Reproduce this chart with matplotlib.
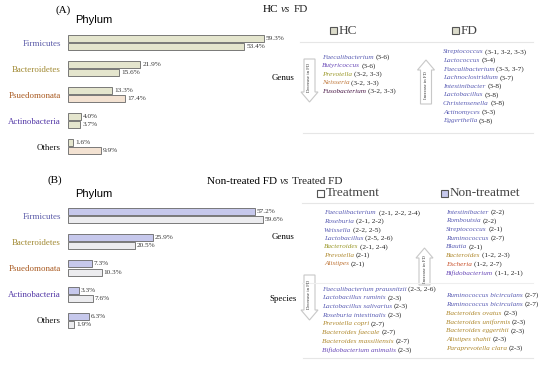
"""Phylum bars + genus/species change lists: HC vs FD and treated vs non-treated FD."""

import matplotlib.pyplot as plt
from matplotlib.patches import FancyArrow, Rectangle

SERIF = 'Liberation Serif'
SANS = 'Liberation Sans'

phyla = ['Firmicutes', 'Bacteroidetes', 'Psuedomonata', 'Actinobacteria', 'Others']
phyla_colors = ['#5a5aa8', '#a08830', '#a8581e', '#5035a5', '#111111']

# panel A: HC vs FD (%)
hc_pct = [59.3, 21.9, 13.3, 4.0, 1.6]
fd_pct = [53.4, 15.6, 17.4, 3.7, 9.9]
# panel B: non-treated vs treated FD (%)
nontreat_pct = [57.2, 25.9, 7.3, 3.3, 6.3]
treat_pct = [59.6, 20.5, 10.3, 7.6, 1.9]

BLUE = '#5c5fb5'
PURP = '#6a4ab8'
OLIVE = '#9c9a2c'
GOLD = '#b08a30'
ORANGE = '#c0773a'
RED = '#c8502a'
DARK = '#4a1a48'

hc_genus = [('Faecalibacterium', '(3-6)', BLUE), ('Butyricoccus', '(3-6)', PURP),
            ('Prevotella', '(3-2, 3-3)', OLIVE), ('Neisseria', '(3-2, 3-3)', ORANGE),
            ('Fusobacterium', '(3-2, 3-3)', DARK)]
fd_genus = [('Streptococcus', '(3-1, 3-2, 3-3)', BLUE), ('Lactococcus', '(3-4)', BLUE),
            ('Faecalibacterium', '(3-3, 3-7)', BLUE), ('Lachnoclostridium', '(3-7)', BLUE),
            ('Intestinibacter', '(3-8)', BLUE), ('Lactobacillus', '(3-8)', BLUE),
            ('Christensenella', '(3-8)', BLUE), ('Actinomyces', '(3-3)', BLUE),
            ('Eggerthella', '(3-8)', BLUE)]
treat_genus = [('Faecalibacterium', ' (2-1, 2-2, 2-4)', BLUE), ('Roseburia', '(2-1, 2-2)', BLUE),
               ('Weissella', '(2-2, 2-5)', BLUE), ('Lactobacillus', '(2-5, 2-6)', BLUE),
               ('Bacteroides', '(2-1, 2-4)', OLIVE), ('Prevotella', '(2-1)', GOLD),
               ('Alistipes', '(2-1)', ORANGE)]
nontreat_genus = [('Intestinibacter', '(2-2)', BLUE), ('Romboutsia', '(2-2)', BLUE),
                  ('Streptococcus', '(2-1)', BLUE), ('Ruminococcus', '(2-7)', BLUE),
                  ('Blautia', '(2-1)', BLUE), ('Bacteroides', '(1-2, 2-3)', GOLD),
                  ('Escheria', '(1-2, 2-7)', RED), ('Bifidobacterium', '(1-1, 2-1)', PURP)]
treat_species = [('Faecalibacterium prausnitzii', '(2-3, 2-6)', BLUE),
                 ('Lactobacillus ruminis', '(2-3)', BLUE),
                 ('Lactobacillus salivarius', '(2-3)', BLUE),
                 ('Roseburia intestinalis', '(2-3)', BLUE),
                 ('Prevotella copri', '(2-7)', GOLD),
                 ('Bacteroides faecale', '(2-7)', GOLD),
                 ('Bacteroides massiliensis', '(2-7)', GOLD),
                 ('Bifidobacterium animalis', '(2-3)', PURP)]
nontreat_species = [('Ruminococcus bicirculans', '(2-7)', BLUE),
                    ('Ruminococcus bicirculans', '(2-7)', BLUE),
                    ('Bacteroides ovatus', '(2-3)', GOLD),
                    ('Bacteroides uniformis', '(2-3)', GOLD),
                    ('Bacteroides eggerthii', '(2-3)', GOLD),
                    ('Alistipes shahii', '(2-3)', GOLD),
                    ('Paraprevotella clara', '(2-3)', GOLD)]

W, H = 550, 366
fig = plt.figure(figsize=(W / 100, H / 100), dpi=100)

# overlay axes in pixel coordinates for all the text layout
ov = fig.add_axes([0, 0, 1, 1])
ov.set_xlim(0, W)
ov.set_ylim(H, 0)
ov.axis('off')


def bar_panel(top_px, bot_px, px_per_pct, first, second, c1, c2):
    ax = fig.add_axes([68 / W, 1 - bot_px / H, 200 / W, (bot_px - top_px) / H])
    ax.set_xlim(0, 200 / px_per_pct)
    ax.set_ylim(4.5, -0.5)
    y = list(range(len(phyla)))
    ax.barh([i - 0.155 for i in y], first, height=0.27, color=c1, edgecolor='#666666', lw=0.6)
    ax.barh([i + 0.155 for i in y], second, height=0.27, color=c2, edgecolor='#666666', lw=0.6)
    for i in y:
        ax.text(first[i] + 0.6, i - 0.155, f'{first[i]}%', va='center', fontsize=5.2,
                family=SERIF, color='#333333', clip_on=False)
        ax.text(second[i] + 0.6, i + 0.155, f'{second[i]}%', va='center', fontsize=5.2,
                family=SERIF, color='#333333', clip_on=False)
    ax.set_yticks(y, labels=phyla)
    for lab, c in zip(ax.get_yticklabels(), phyla_colors):
        lab.set_color(c)
        lab.set_family(SERIF)
        lab.set_fontsize(6.4)
    ax.tick_params(axis='y', length=0, pad=5)
    ax.set_xticks([])
    for s in ax.spines.values():
        s.set_visible(False)
    ax.patch.set_alpha(0)
    return ax


axA = bar_panel(29.5, 159.5, 3.3, hc_pct, fd_pct, '#e4e5cd', '#e4e5cd')
# FD bars of Psuedomonata and Others are peach in the original
for idx in (2, 4):
    axA.patches[len(phyla) + idx].set_facecolor('#f3e2d2')
axB = bar_panel(202.5, 333.5, 3.27, nontreat_pct, treat_pct, '#c6c8ec', '#ececef')


def after(t, s, italic=False, size=8.0, gap=1.3, color='#222222'):
    return ov.annotate(s, xy=(1, 0.5), xycoords=t, xytext=(gap, 0), textcoords='offset points',
                       fontsize=size, family=SERIF, color=color, va='center', ha='left',
                       style='italic' if italic else 'normal')


def title(x, y, left, right):
    t = ov.text(x, y, left, fontsize=8.0, family=SERIF, va='center')
    t = after(t, 'vs', italic=True, gap=2.0)
    after(t, right, gap=2.0)


def name_list(x, y0, step, items):
    for k, (name, ref, col) in enumerate(items):
        t = ov.text(x, y0 + k * step, name, fontsize=5.2, family=SERIF, style='italic',
                    color=col, va='center', ha='left')
        after(t, ref, size=5.2)


def block_arrow(xc, y_from, y_to, label):
    ov.add_patch(FancyArrow(xc, y_from, 0, y_to - y_from, width=11, head_width=17,
                            head_length=10, length_includes_head=True,
                            fc='white', ec='#c8c8c8', lw=0.8))
    yc = y_from + (y_to - y_from) * 0.42
    ov.text(xc, yc, label, rotation=90, fontsize=3.4, family=SERIF, color='#333333',
            ha='center', va='center')


def legend_box(x, y, fill, label):
    ov.add_patch(Rectangle((x, y - 3.5), 7, 7, fc=fill, ec='#555555', lw=0.8))
    ov.text(x + 8.5, y, label, fontsize=9.5, family=SERIF, color='#444444', va='center')


# ── panel A ──
ov.text(56, 10, '(A)', fontsize=8, family=SERIF, va='center')
title(263, 10, 'HC', 'FD')
ov.text(75, 20, 'Phylum', fontsize=8, family=SANS, va='center')

legend_box(330, 30.5, '#dcdccb', 'HC')
legend_box(452, 30.5, '#dcdccb', 'FD')
ov.plot([300, 533], [41.5, 41.5], color='#e6e6e6', lw=0.8)
ov.plot([303, 533], [132.5, 132.5], color='#e6e6e6', lw=0.8)
ov.text(295, 78, 'Genus', fontsize=6.4, family=SERIF, ha='right', va='center')
block_arrow(309.5, 59, 102, 'Decrease in FD')
block_arrow(426, 104, 60, 'Increase in FD')
name_list(322, 57.5, 8.5, hc_genus)
name_list(443, 52, 8.6, fd_genus)

# ── panel B ──
ov.text(48, 180, '(B)', fontsize=8, family=SERIF, va='center')
title(207, 181, 'Non-treated FD', 'Treated FD')
ov.text(75, 194, 'Phylum', fontsize=8, family=SANS, va='center')

legend_box(317, 193, 'white', 'Treatment')
legend_box(441, 193, '#c6c8ec', 'Non-treatmet')
ov.plot([302, 533], [202.5, 202.5], color='#e6e6e6', lw=0.8)
ov.plot([302, 533], [283, 283], color='#eeeeee', lw=0.8)
ov.plot([303, 533], [358, 358], color='#e6e6e6', lw=0.8)
ov.text(295, 237, 'Genus', fontsize=6.4, family=SERIF, ha='right', va='center')
ov.text(297, 299, 'Species', fontsize=6.4, family=SERIF, ha='right', va='center')
block_arrow(424.5, 285, 248, 'Increase in FD')
block_arrow(309.5, 275, 320, 'Decrease in FD')
name_list(324, 213, 8.5, treat_genus)
name_list(446, 212, 8.7, nontreat_genus)
name_list(322, 289, 8.7, treat_species)
name_list(446, 295.5, 8.8, nontreat_species)

fig.savefig('out.png', dpi=100)
